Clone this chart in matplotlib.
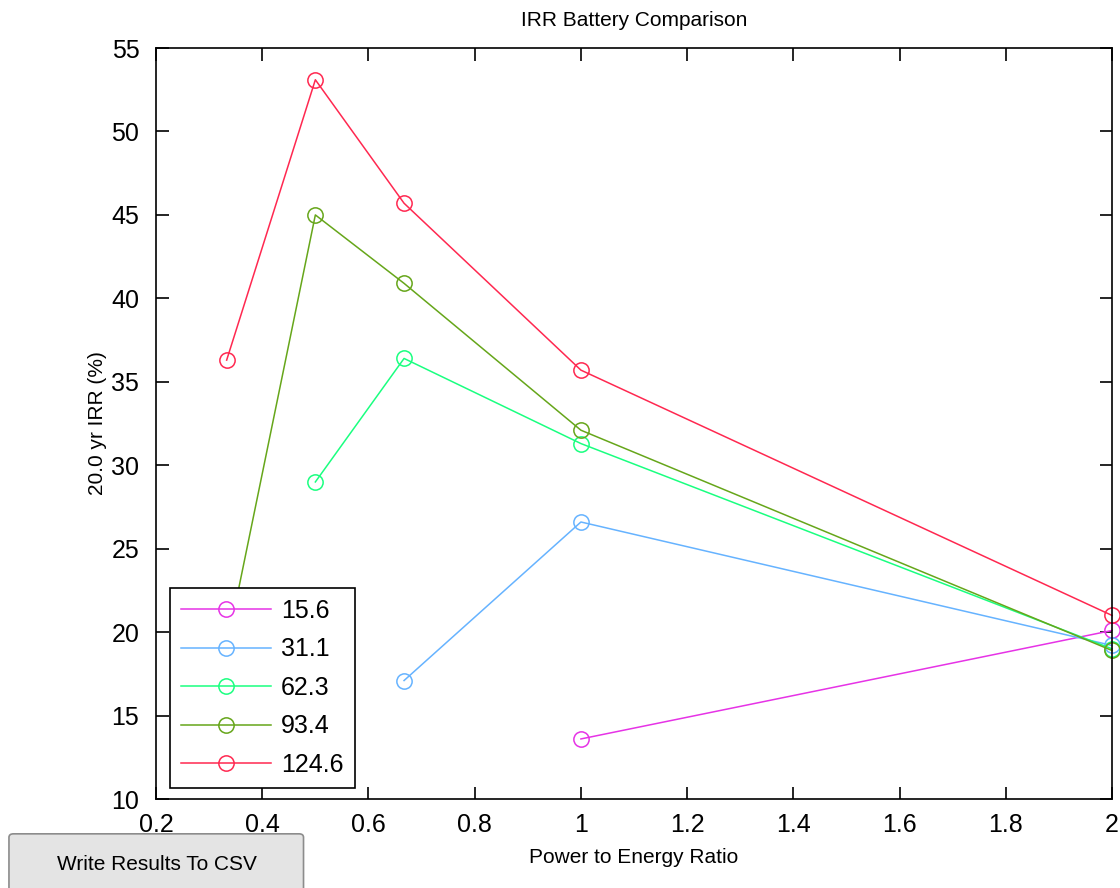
import matplotlib.pyplot as plt
from matplotlib.patches import FancyBboxPatch

plt.rcParams['font.family'] = ['Liberation Sans', 'DejaVu Sans']

# series: battery size -> (power/energy ratio, IRR %)
labels = ['15.6', '31.1', '62.3', '93.4', '124.6']
x_156 = [1.0, 2.0]
y_156 = [13.6, 20.1]
x_311 = [0.667, 1.0, 2.0]
y_311 = [17.1, 26.6, 19.2]
x_623 = [0.5, 0.667, 1.0, 2.0]
y_623 = [29.0, 36.4, 31.3, 19.0]
x_934 = [0.333, 0.5, 0.667, 1.0, 2.0]
y_934 = [19.1, 45.0, 40.9, 32.1, 18.9]
x_1246 = [0.333, 0.5, 0.667, 1.0, 2.0]
y_1246 = [36.3, 53.1, 45.7, 35.7, 21.0]
colors = ['#e633e6', '#66b3ff', '#1aff80', '#66a61a', '#ff2850']

xs = [x_156, x_311, x_623, x_934, x_1246]
ys = [y_156, y_311, y_623, y_934, y_1246]

fig = plt.figure(figsize=(11.2, 8.88), dpi=100)
ax = fig.add_axes([0.1393, 0.1002, 0.8536, 0.8457])

for x, y, c, lab in zip(xs, ys, colors, labels):
    ax.plot(x, y, '-o', color=c, mfc='none', mec=c, ms=11, mew=1.1,
            lw=1.1, label=lab, clip_on=False)

ax.set_xlim(0.2, 2.0)
ax.set_ylim(10, 55)
ax.set_xticks([0.2, 0.4, 0.6, 0.8, 1.0, 1.2, 1.4, 1.6, 1.8, 2.0])
ax.set_xticklabels(['0.2', '0.4', '0.6', '0.8', '1', '1.2', '1.4', '1.6', '1.8', '2'])
ax.set_yticks(range(10, 56, 5))
ax.tick_params(direction='in', length=9, width=1.2, top=True, right=True,
               labelsize=18)
ax.tick_params(axis='x', pad=10)
ax.tick_params(axis='y', pad=12)
for s in ax.spines.values():
    s.set_linewidth(1.2)

ax.set_title('IRR Battery Comparison', fontsize=15, pad=16)
ax.set_xlabel('Power to Energy Ratio', fontsize=15, labelpad=8)
ax.set_ylabel('20.0 yr IRR (%)', fontsize=15, labelpad=3)

leg = ax.legend(loc='lower left', bbox_to_anchor=(0.0145, 0.0145), fontsize=18,
                frameon=True, fancybox=False, edgecolor='black',
                handlelength=3.6, handletextpad=0.4, borderpad=0.45,
                labelspacing=0.58, borderaxespad=0)
leg.get_frame().set_linewidth(1.2)
leg.get_frame().set_alpha(1)

# GUI button drawn under the axes
btn = FancyBboxPatch((0.008, -0.01), 0.263, 0.071, boxstyle='round,pad=0,rounding_size=0.004',
                     transform=fig.transFigure, facecolor='#e4e4e4',
                     edgecolor='#8c8c8c', linewidth=1.2)
fig.add_artist(btn)
fig.text(0.14, 0.026, 'Write Results To CSV', ha='center', va='center', fontsize=15)

fig.savefig('out.png', dpi=100)
